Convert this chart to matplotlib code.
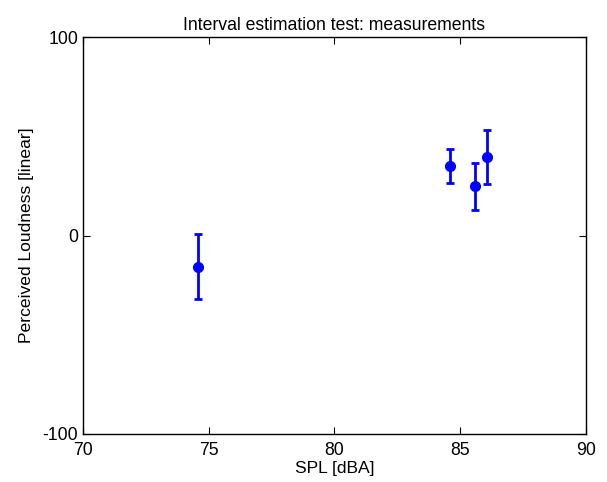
import numpy as np
from matplotlib import pyplot as plt

plt.rcParams['font.family'] = ['Liberation Sans', 'DejaVu Sans']
plt.rcParams['axes.unicode_minus'] = False

# measurements
spl = [74.58, 84.59, 85.60, 86.06]
loudness = [-15.6, 35.1, 24.8, 39.8]
err = [16.2, 8.7, 11.9, 13.6]

xticks = [70, 75, 80, 85, 90]
yticks = [-100, 0, 100]

fig = plt.figure(figsize=(6.07, 4.82), dpi=100)
ax = fig.add_axes([0.1367, 0.0996, 0.8287, 0.8230])

ax.errorbar(spl, loudness, yerr=err, fmt="o", color="blue", markersize=7,
            elinewidth=2, capsize=3, capthick=2)

ax.set_xlim(70, 90)
ax.set_ylim(-100, 100)
ax.set_xticks(xticks)
ax.set_yticks(yticks)
ax.tick_params(direction="in", top=True, right=True, labelsize=12.7, length=5)
ax.tick_params(axis="x", pad=6)
ax.tick_params(axis="y", pad=3.5)
for s in ax.spines.values():
    s.set_linewidth(1)

ax.set_xlabel("SPL [dBA]", fontsize=12.6, labelpad=1.5)
ax.set_ylabel("Perceived Loudness [linear]", fontsize=12.6, labelpad=6)
ax.set_title("Interval estimation test: measurements", fontsize=12.7, pad=5.5)

plt.savefig("out.png", dpi=100)
